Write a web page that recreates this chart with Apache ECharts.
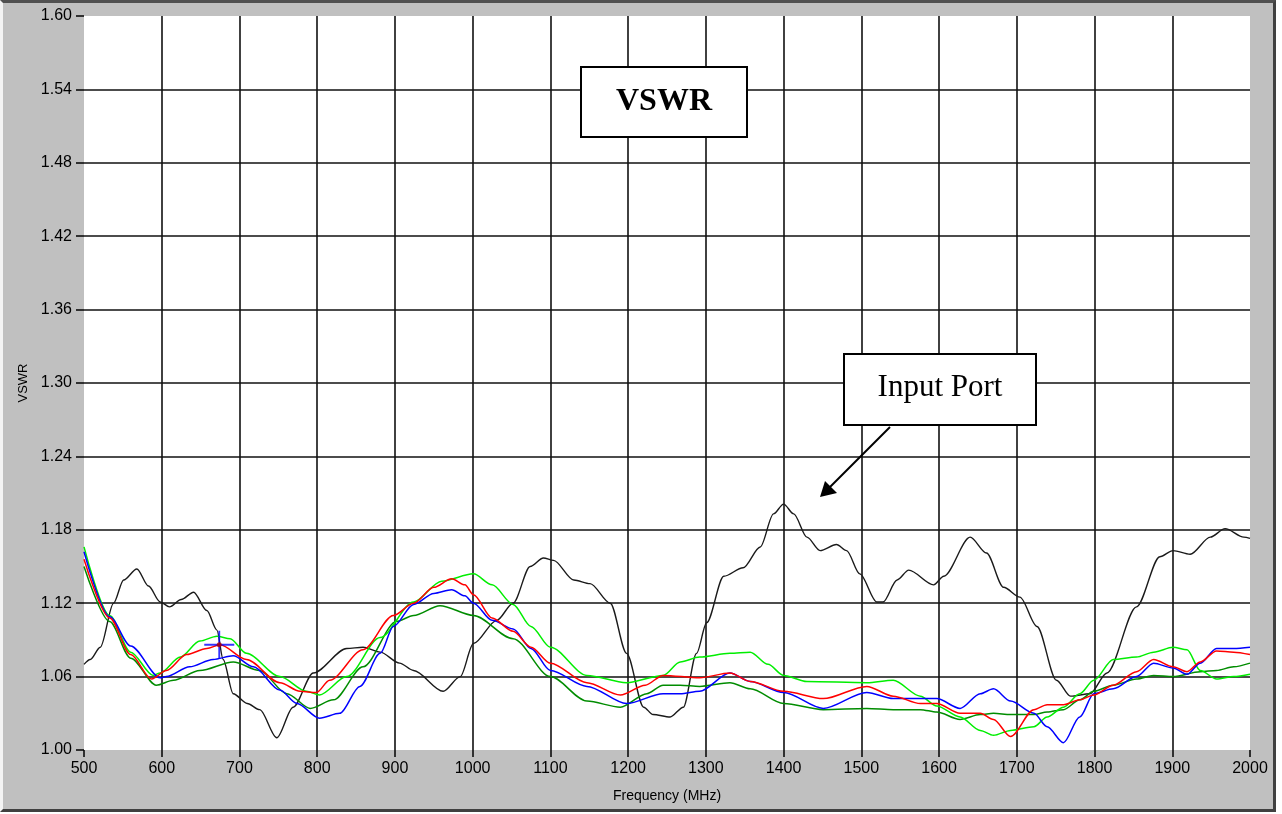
<!DOCTYPE html>
<html>
<head>
<meta charset="utf-8">
<script src="https://cdn.jsdelivr.net/npm/echarts@6/dist/echarts.min.js"></script>
<style>
html,body{margin:0;padding:0;background:#fff;width:1282px;height:814px;overflow:hidden;}
#frame{position:absolute;left:0;top:0;width:1270px;height:806px;background:#c0c0c0;
 border-top:3px solid #505050;border-left:3px solid #f4f4f4;border-right:3px solid #404040;border-bottom:3px solid #404040;}
#chart{position:absolute;left:0;top:0;width:1282px;height:814px;}
</style>
</head>
<body>
<div id="frame"></div>
<div id="chart"></div>
<script>
// ---- data ----
const xTicks = [500,600,700,800,900,1000,1100,1200,1300,1400,1500,1600,1700,1800,1900,2000];
const yTicks = [1.00,1.06,1.12,1.18,1.24,1.30,1.36,1.42,1.48,1.54,1.60];

const inputFreq = [500,508,521,538,551,568,583,598,610,625,641,658,671,679,692,710,726,748,769,795,838,859,881,906,924,962,984,1001,1031,1052,1074,1091,1104,1130,1151,1177,1198,1220,1232,1254,1271,1288,1301,1323,1348,1370,1387,1400,1413,1430,1447,1468,1481,1498,1520,1528,1546,1561,1593,1606,1640,1661,1683,1704,1726,1751,1769,1794,1816,1854,1884,1901,1923,1949,1968,1992,2000];
const inputVswr = [1.070,1.074,1.084,1.120,1.139,1.148,1.134,1.121,1.117,1.123,1.129,1.114,1.098,1.074,1.046,1.038,1.033,1.010,1.035,1.063,1.083,1.084,1.080,1.071,1.065,1.048,1.060,1.087,1.106,1.120,1.150,1.157,1.155,1.139,1.136,1.120,1.079,1.035,1.029,1.027,1.035,1.079,1.104,1.142,1.149,1.166,1.193,1.201,1.193,1.174,1.163,1.168,1.163,1.144,1.121,1.121,1.139,1.147,1.135,1.142,1.174,1.161,1.133,1.125,1.101,1.057,1.044,1.046,1.063,1.117,1.158,1.163,1.160,1.174,1.181,1.174,1.173];

const greenFreq = [500,533,560,589,598,624,649,671,688,709,752,786,803,838,881,924,960,1001,1025,1052,1075,1100,1147,1198,1245,1267,1292,1331,1357,1380,1400,1430,1507,1541,1576,1597,1627,1653,1670,1692,1722,1739,1760,1781,1799,1824,1854,1876,1901,1919,1936,1957,1979,2000];
const greenVswr = [1.166,1.110,1.080,1.061,1.063,1.076,1.089,1.093,1.091,1.079,1.060,1.048,1.045,1.060,1.092,1.121,1.138,1.144,1.135,1.119,1.101,1.084,1.061,1.055,1.061,1.072,1.076,1.079,1.080,1.070,1.061,1.056,1.055,1.057,1.044,1.036,1.027,1.016,1.012,1.016,1.019,1.027,1.035,1.046,1.057,1.074,1.076,1.080,1.084,1.082,1.065,1.058,1.060,1.062];

const redFreq = [500,533,560,587,606,632,658,675,709,752,778,799,816,859,898,924,950,973,990,1001,1025,1052,1075,1100,1147,1190,1222,1245,1292,1331,1357,1400,1451,1507,1541,1576,1597,1627,1653,1670,1692,1722,1739,1760,1781,1799,1824,1854,1876,1901,1919,1936,1957,1979,2000];
const redVswr = [1.156,1.108,1.078,1.058,1.065,1.078,1.083,1.086,1.074,1.055,1.048,1.047,1.057,1.082,1.110,1.120,1.133,1.140,1.135,1.127,1.108,1.097,1.084,1.071,1.055,1.045,1.053,1.061,1.059,1.063,1.056,1.048,1.042,1.052,1.044,1.038,1.038,1.030,1.030,1.025,1.011,1.033,1.037,1.037,1.041,1.045,1.053,1.064,1.074,1.068,1.064,1.072,1.081,1.080,1.078];

const blueFreq = [500,533,560,598,606,636,666,692,718,752,774,803,829,855,881,898,924,950,973,990,1001,1025,1052,1075,1100,1147,1198,1245,1267,1292,1331,1357,1400,1451,1507,1541,1576,1597,1627,1653,1670,1692,1722,1739,1760,1781,1799,1824,1854,1876,1901,1919,1936,1957,1979,2000];
const blueVswr = [1.162,1.109,1.085,1.059,1.060,1.068,1.074,1.077,1.068,1.049,1.038,1.026,1.030,1.052,1.079,1.101,1.119,1.128,1.131,1.126,1.120,1.106,1.099,1.083,1.065,1.052,1.038,1.046,1.046,1.048,1.063,1.056,1.047,1.034,1.047,1.042,1.042,1.042,1.034,1.046,1.050,1.040,1.030,1.019,1.006,1.027,1.046,1.050,1.060,1.071,1.067,1.062,1.071,1.083,1.083,1.084];

const dkgreenFreq = [500,533,560,593,615,649,692,726,761,791,821,859,902,924,958,1001,1052,1100,1147,1190,1224,1245,1267,1292,1331,1357,1400,1451,1507,1541,1576,1597,1627,1653,1670,1692,1722,1739,1760,1781,1799,1824,1854,1876,1901,1936,1957,1979,2000];
const dkgreenVswr = [1.150,1.105,1.075,1.053,1.057,1.065,1.072,1.065,1.046,1.034,1.041,1.068,1.105,1.110,1.118,1.110,1.091,1.060,1.040,1.035,1.046,1.053,1.053,1.052,1.055,1.050,1.038,1.033,1.034,1.033,1.033,1.031,1.025,1.029,1.030,1.029,1.029,1.031,1.033,1.041,1.048,1.053,1.058,1.061,1.060,1.064,1.065,1.068,1.071];

const cursorPoint = [674, 1.086];

const titleText = 'VSWR';
const calloutText = 'Input Port';
const xAxisName = 'Frequency (MHz)';
const yAxisName = 'VSWR';

// ---- build chart ----
function pairs(xs, ys){ return xs.map((x,i)=>[x, ys[i]]); }
const tickFont = "'Liberation Sans',Arial,sans-serif";
const chart = echarts.init(document.getElementById('chart'), null, {renderer:'canvas'});

function lineSeries(name, xs, ys, color, w){
  return {name, type:'line', data:pairs(xs,ys), showSymbol:false, smooth:0.3, smoothMonotone:'x',
    lineStyle:{color, width:w}, itemStyle:{color}, animation:false, z:3};
}

chart.setOption({
  backgroundColor:'transparent',
  animation:false,
  grid:{left:84, right:32, top:16, bottom:64, show:true, backgroundColor:'#ffffff', borderWidth:0},
  xAxis:{type:'value', min:xTicks[0], max:xTicks[xTicks.length-1], interval:100,
    name:xAxisName, nameLocation:'middle', nameGap:39,
    nameTextStyle:{color:'#000', fontSize:14, fontFamily:"'Liberation Sans',Arial,sans-serif"},
    axisLine:{show:false},
    axisTick:{show:true, length:7, lineStyle:{color:'#000', width:1.5}},
    axisLabel:{color:'#000', fontSize:16, fontFamily:tickFont, margin:11, formatter:v=>String(v)},
    splitLine:{show:true, showMinLine:false, showMaxLine:false, lineStyle:{color:'#111', width:1.6}}},
  yAxis:{type:'value', min:yTicks[0], max:yTicks[yTicks.length-1], interval:0.06,
    name:yAxisName, nameLocation:'middle', nameGap:54, nameRotate:90,
    nameTextStyle:{color:'#000', fontSize:13, fontFamily:"'Liberation Sans',Arial,sans-serif"},
    axisLine:{show:false},
    axisTick:{show:true, length:8, lineStyle:{color:'#000', width:1.5}},
    axisLabel:{color:'#000', fontSize:16, fontFamily:tickFont, margin:12, formatter:v=>v.toFixed(2)},
    splitLine:{show:true, showMinLine:false, showMaxLine:false, lineStyle:{color:'#111', width:1.6}}},
  series:[
    lineSeries('Input Port', inputFreq, inputVswr, '#1a1a1a', 1.4),
    lineSeries('Port A', dkgreenFreq, dkgreenVswr, '#008c00', 1.5),
    lineSeries('Port B', greenFreq, greenVswr, '#00ee00', 1.5),
    lineSeries('Port C', blueFreq, blueVswr, '#0000ff', 1.5),
    lineSeries('Port D', redFreq, redVswr, '#ff0000', 1.5),
    {type:'scatter', data:[cursorPoint], symbol:'path://M-1,-15h2v30h-2z M-16,-1h32v2h-32z', symbolSize:[30,28],
      itemStyle:{color:'#0000ff'}, z:4, silent:true, animation:false},
    {type:'scatter', data:[cursorPoint], symbol:'circle', symbolSize:5,
      itemStyle:{color:'#b00000'}, z:5, silent:true, animation:false}
  ],
  graphic:[
    {type:'rect', z:100, shape:{x:581, y:67, width:166, height:70}, style:{fill:'#fff', stroke:'#000', lineWidth:2}},
    {type:'text', z:101, style:{text:titleText, x:664, y:102, fill:'#000', font:"bold 32px 'Liberation Serif', serif", align:'center', verticalAlign:'middle'}},
    {type:'rect', z:100, shape:{x:844, y:354, width:192, height:71}, style:{fill:'#fff', stroke:'#000', lineWidth:2}},
    {type:'text', z:101, style:{text:calloutText, x:940, y:388, fill:'#000', font:"31px 'Liberation Serif', serif", align:'center', verticalAlign:'middle'}},
    {type:'line', z:100, shape:{x1:890, y1:427, x2:828, y2:489}, style:{stroke:'#000', lineWidth:2}},
    {type:'polygon', z:100, shape:{points:[[820,497],[825,481],[837,493]]}, style:{fill:'#000'}}
  ]
});
</script>
</body>
</html>
